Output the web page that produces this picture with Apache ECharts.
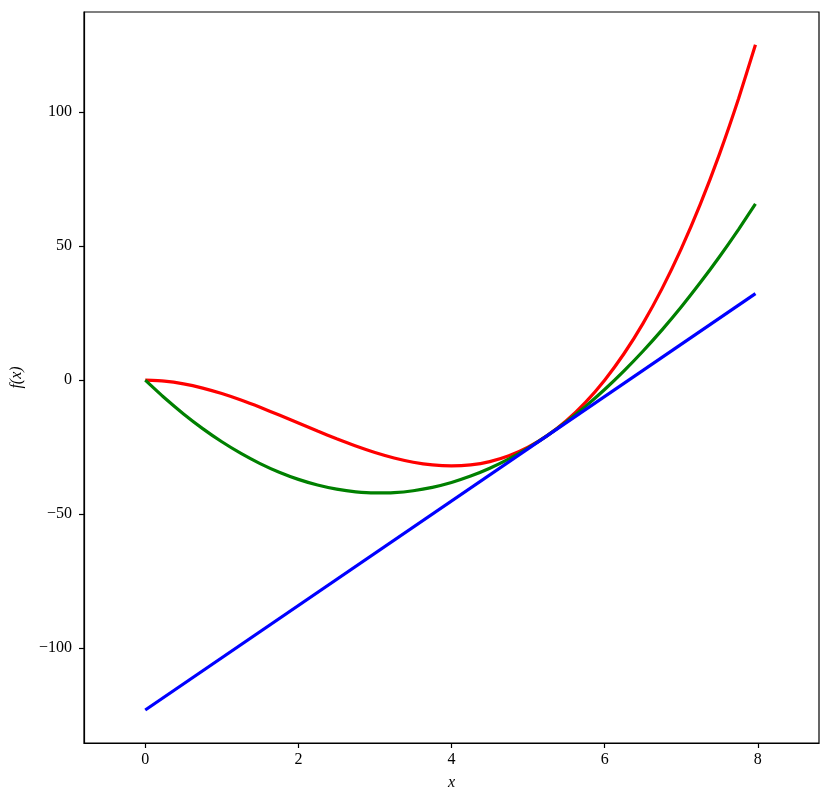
<!DOCTYPE html>
<html>
<head>
<meta charset="utf-8">
<script src="https://cdn.jsdelivr.net/npm/echarts@6/dist/echarts.min.js"></script>
<style>html,body{margin:0;padding:0;background:#fff}#c{width:831px;height:802px}</style>
</head>
<body>
<div id="c"></div>
<script>
const xs = [0,0.25,0.5,0.75,1,1.25,1.5,1.75,2,2.25,2.5,2.75,3,3.25,3.5,3.75,4,4.25,4.5,4.75,5,5.25,5.5,5.75,6,6.25,6.5,6.75,7,7.25,7.5,7.75,7.97];
const redVals = [0,-0.36,-1.375,-2.95,-5,-7.42,-10.125,-13.02,-16,-18.98,-21.875,-24.58,-27,-29.05,-30.625,-31.64,-32,-31.61,-30.375,-28.2,-25,-20.67,-15.125,-8.27,0,9.77,21.125,34.17,49,65.7,84.375,105.11,125.2];
const greenVals = [0,-6.58,-12.6,-18.07,-22.98,-27.33,-31.12,-34.35,-37.02,-39.12,-40.67,-41.66,-42.08,-41.95,-41.25,-40,-38.18,-35.8,-32.87,-29.37,-25.31,-20.7,-15.52,-9.78,-3.48,3.38,10.8,18.78,27.31,36.42,46.08,56.3,65.76];
const blueX = [0,7.97];
const blueVals = [-123.1,32.3];
const xTicks = [0,2,4,6,8];
const yTicks = [-100,-50,0,50,100];

const font = '"Liberation Serif","DejaVu Serif",serif';
const pairs = (a,b)=>a.map((v,i)=>[v,b[i]]);
const chart = echarts.init(document.getElementById('c'), null, {renderer:'canvas'});
chart.setOption({
  animation:false,
  backgroundColor:'#fff',
  grid:{left:84,right:12,top:12,bottom:59,show:true,borderColor:'#000',borderWidth:1.2,containLabel:false},
  xAxis:{type:'value',min:-0.8,max:8.8,
    name:'x',nameLocation:'middle',nameGap:32,
    nameTextStyle:{fontFamily:font,fontStyle:'italic',fontSize:16,color:'#000'},
    axisLine:{show:true,onZero:false,lineStyle:{color:'#000',width:1.2}},
    axisTick:{show:true,inside:false,length:5,lineStyle:{color:'#000',width:1.2},customValues:xTicks},
    axisLabel:{customValues:xTicks,margin:9,fontFamily:font,fontSize:16,color:'#000',
      formatter:v=>String(v).replace('-','\u2212')},
    splitLine:{show:false}},
  yAxis:{type:'value',min:-135.4,max:137.4,
    name:'f(x)',nameLocation:'middle',nameGap:59,nameRotate:90,
    nameTextStyle:{fontFamily:font,fontStyle:'italic',fontSize:16,color:'#000'},
    axisLine:{show:true,onZero:false,lineStyle:{color:'#000',width:1.2}},
    axisTick:{show:true,inside:false,length:5,lineStyle:{color:'#000',width:1.2},customValues:yTicks},
    axisLabel:{customValues:yTicks,margin:12,fontFamily:font,fontSize:16,color:'#000',
      formatter:v=>String(v).replace('-','\u2212')},
    splitLine:{show:false}},
  series:[
    {type:'line',data:pairs(xs,redVals),showSymbol:false,smooth:0.2,lineStyle:{color:'#ff0000',width:3.2},itemStyle:{color:'#ff0000'},z:2},
    {type:'line',data:pairs(xs,greenVals),showSymbol:false,smooth:0.2,lineStyle:{color:'#008000',width:3.2},itemStyle:{color:'#008000'},z:3},
    {type:'line',data:pairs(blueX,blueVals),showSymbol:false,lineStyle:{color:'#0000ff',width:3.2},itemStyle:{color:'#0000ff'},z:4}
  ]
});
</script>
</body>
</html>
